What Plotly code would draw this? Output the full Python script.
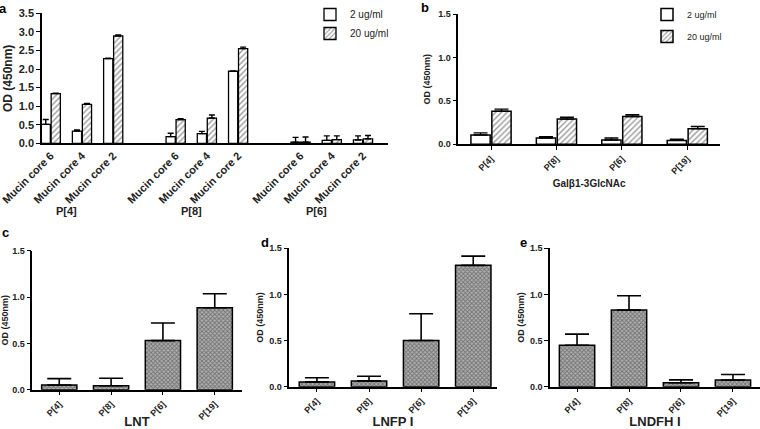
import plotly.graph_objects as go

# ---------------- data ----------------
groups_a = ["P[4]", "P[8]", "P[6]"]
cores_a = ["Mucin core 6", "Mucin core 4", "Mucin core 2"]
a_2 = [0.51, 0.33, 2.28, 0.18, 0.26, 1.94, 0.03, 0.08, 0.09]
a_2_err = [0.13, 0.03, 0.01, 0.09, 0.06, 0.01, 0.13, 0.12, 0.11]
a_20 = [1.34, 1.05, 2.89, 0.64, 0.68, 2.55, 0.03, 0.10, 0.12]
a_20_err = [0.01, 0.02, 0.03, 0.02, 0.08, 0.04, 0.14, 0.10, 0.09]

strains_b = ["P[4]", "P[8]", "P[6]", "P[19]"]
b_2 = [0.107, 0.072, 0.05, 0.045]
b_2_err = [0.025, 0.015, 0.022, 0.015]
b_20 = [0.38, 0.29, 0.32, 0.18]
b_20_err = [0.025, 0.022, 0.02, 0.025]

strains = ["P[4]", "P[8]", "P[6]", "P[19]"]
lnt = [0.05, 0.043, 0.53, 0.885]
lnt_err = [0.07, 0.08, 0.19, 0.15]
lnfp = [0.052, 0.063, 0.50, 1.315]
lnfp_err = [0.045, 0.05, 0.29, 0.10]
lndfh = [0.45, 0.83, 0.042, 0.072]
lndfh_err = [0.12, 0.155, 0.032, 0.06]

legend_names = ["2 ug/ml", "20 ug/ml"]

FONT = "Liberation Sans, Arial, sans-serif"

# categorical keys for panel a (with spacer categories between groups)
cat_keys = [f"{g}|{c}" for g in groups_a for c in cores_a]
cat_labels = [c for g in groups_a for c in cores_a]
cat_array = []
for i, g in enumerate(groups_a):
    cat_array += [f"{g}|{c}" for c in cores_a]
    if i < len(groups_a) - 1:
        cat_array.append(f"gap{i}")

fig = go.Figure()

def err(arr, w, th=1.4):
    return dict(type="data", array=arr, arrayminus=[0] * len(arr), symmetric=False,
                color="black", thickness=th, width=w)

hatch = dict(shape="/", fgcolor="#333333", bgcolor="white", size=4, solidity=0.35)
check = dict(shape="x", fgcolor="#333333", bgcolor="#b0b0b0", size=3, solidity=0.5)

# panel a
fig.add_trace(go.Bar(x=cat_keys, y=a_2, name=legend_names[0], xaxis="x", yaxis="y",
                     marker=dict(color="white", line=dict(color="black", width=1.3)),
                     error_y=err(a_2_err, 3), legend="legend"))
fig.add_trace(go.Bar(x=cat_keys, y=a_20, name=legend_names[1], xaxis="x", yaxis="y",
                     marker=dict(color="white", pattern=hatch, line=dict(color="black", width=1.3)),
                     error_y=err(a_20_err, 3), legend="legend"))
# panel b
fig.add_trace(go.Bar(x=strains_b, y=b_2, name=legend_names[0], xaxis="x2", yaxis="y2",
                     marker=dict(color="white", line=dict(color="black", width=1.5)),
                     error_y=err(b_2_err, 7), legend="legend2", legendgroup="b1"))
fig.add_trace(go.Bar(x=strains_b, y=b_20, name=legend_names[1], xaxis="x2", yaxis="y2",
                     marker=dict(color="white", pattern=hatch, line=dict(color="black", width=1.5)),
                     error_y=err(b_20_err, 7), legend="legend2", legendgroup="b2"))
# panels c, d, e
for vals, errs, ax in [(lnt, lnt_err, "3"), (lnfp, lnfp_err, "4"), (lndfh, lndfh_err, "5")]:
    fig.add_trace(go.Bar(x=strains, y=vals, xaxis="x" + ax, yaxis="y" + ax, showlegend=False,
                         marker=dict(color="#b0b0b0", pattern=check, line=dict(color="black", width=1.5)),
                         error_y=err(errs, 12, 1.6), width=0.68))

W, H = 760, 429
def px_x(a, b):
    return [a / W, b / W]
def px_y(top, bottom):
    return [1 - bottom / H, 1 - top / H]

def yax(domain, rng, dtick, anchor, title, tsize, ttsize, standoff):
    return dict(domain=domain, range=rng, dtick=dtick, anchor=anchor, showgrid=False,
                zeroline=False, showline=True, linecolor="black", linewidth=1.5, automargin=False,
                ticks="outside", ticklen=4, tickwidth=1.3, tickcolor="black",
                tickformat=".1f", tickfont=dict(family=FONT, size=tsize, color="#222", weight="bold"),
                title=dict(text=title, font=dict(family=FONT, size=ttsize, color="#222", weight="bold"),
                           standoff=standoff))

def xax(domain, rng, anchor, tsize, title=None, ttsize=12, standoff=4, ticklen=4):
    d = dict(domain=domain, range=rng, anchor=anchor, showgrid=False, zeroline=False,
             showline=True, linecolor="black", linewidth=1.5, ticks="outside", ticklen=ticklen,
             tickwidth=1.2, tickcolor="black", tickangle=-45, automargin=False,
             tickfont=dict(family=FONT, size=tsize, color="#222", weight="bold"))
    if title:
        d["title"] = dict(text=title, font=dict(family=FONT, size=ttsize, color="#222", weight="bold"),
                          standoff=standoff)
    return d

layout = dict(
    width=W, height=H, margin=dict(l=0, r=0, t=0, b=0, autoexpand=False),
    paper_bgcolor="white", plot_bgcolor="white", barmode="group",
    bargap=0.36, bargroupgap=0.08,
    font=dict(family=FONT, color="#222"),
)

layout["xaxis"] = xax(px_x(42, 388), [-0.28, 10.8], "y", 11, ticklen=0)
layout["xaxis"].update(type="category", categoryorder="array", categoryarray=cat_array,
                       tickmode="array", tickvals=cat_keys, ticktext=cat_labels)
layout["yaxis"] = yax(px_y(13.3, 143.3), [0, 3.5], 0.5, "x", "OD (450nm)", 11, 12, 4)

layout["xaxis2"] = xax(px_x(458.3, 720), [-0.5, 3.5], "y2", 9, title="Galβ1-3GlcNAc",
                       ttsize=10, standoff=4)
layout["yaxis2"] = yax(px_y(14, 144.3), [0, 1.5], 0.5, "x2", "OD (450nm)", 9, 9, 6)

layout["xaxis3"] = xax(px_x(32.3, 241.7), [-0.52, 3.52], "y3", 9, title="LNT", ttsize=13, standoff=1)
layout["yaxis3"] = yax(px_y(250.7, 389.7), [0, 1.5], 0.5, "x3", "OD (450nm)", 9, 9, 4)
layout["xaxis4"] = xax(px_x(289.3, 496.7), [-0.53, 3.45], "y4", 9, title="LNFP I", ttsize=13, standoff=1)
layout["yaxis4"] = yax(px_y(248.3, 386.7), [0, 1.5], 0.5, "x4", "OD (450nm)", 9, 9, 4)
layout["xaxis5"] = xax(px_x(550, 760), [-0.52, 3.52], "y5", 9, title="LNDFH I", ttsize=13, standoff=1)
layout["yaxis5"] = yax(px_y(248.3, 386.7), [0, 1.5], 0.5, "x5", "OD (450nm)", 9, 9, 4)

layout["legend"] = dict(x=310 / W, y=1.0, xanchor="left", yanchor="top",
                        font=dict(family=FONT, size=10, color="#222"), bgcolor="rgba(0,0,0,0)",
                        itemwidth=30, tracegroupgap=0)
layout["legend2"] = dict(x=647 / W, y=1.0, xanchor="left", yanchor="top",
                         font=dict(family=FONT, size=9, color="#222"), bgcolor="rgba(0,0,0,0)",
                         itemwidth=30, tracegroupgap=3)

fig.update_layout(**layout)

# group labels under panel a
mid = [f"{g}|{cores_a[1]}" for g in groups_a]
for key, g in zip(mid, groups_a):
    fig.add_annotation(x=key, y=0, xref="x", yref="y", yshift=-68, xshift=-15, text=g,
                       showarrow=False, font=dict(family=FONT, size=11, color="#222", weight="bold"))
# separator ticks between groups in panel a
for i in range(len(groups_a) - 1):
    fig.add_shape(type="line", x0=f"gap{i}", x1=f"gap{i}", y0=0, y1=-0.13, xref="x", yref="y",
                  line=dict(color="black", width=1.3))

# panel letters
for letter, xp, yp in [("a", 3, 8), ("b", 425, 7), ("c", 5, 232), ("d", 265, 242), ("e", 523, 242)]:
    fig.add_annotation(x=xp / W, y=1 - yp / H, xref="paper", yref="paper", text=letter,
                       showarrow=False, xanchor="center", yanchor="middle",
                       font=dict(family=FONT, size=13, color="black", weight="bold"))

fig.write_html("out.html", config={"displayModeBar": False},
               post_script="document.body.style.margin='0';document.body.style.overflow='hidden';")
